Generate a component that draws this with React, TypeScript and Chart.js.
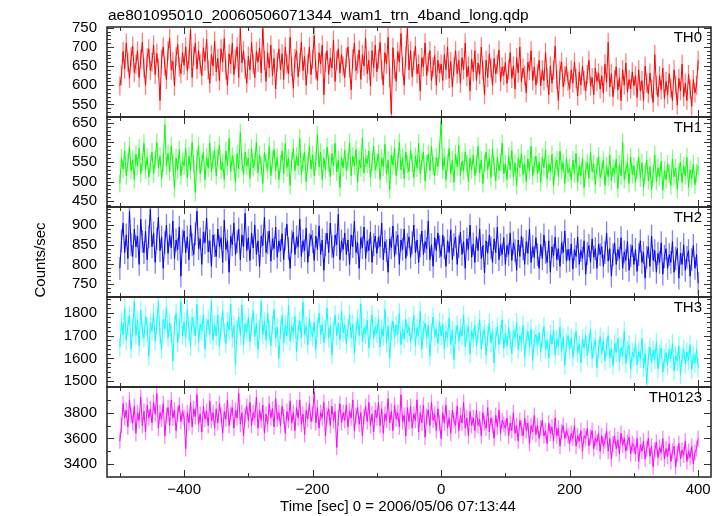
import React, { useEffect, useRef } from "react";
import { Chart, registerables } from "chart.js";
Chart.register(...registerables);

// Time bins: start and bin width (sec)
const T_START = -500;
const T_STEP = 2.5;

const TH0 = [
  598, 625, 688, 642, 710, 660, 618, 675, 702, 633, 655, 690, 620, 668, 712, 645, 600, 672, 695, 638,
  660, 705, 628, 683, 645, 560, 668, 700, 650, 615, 690, 722, 640, 662, 598, 675, 706, 648, 630, 685,
  652, 700, 638, 668, 745, 620, 676, 710, 642, 690, 655, 625, 698, 662, 720, 640, 605, 680, 650, 715,
  635, 670, 612, 695, 660, 722, 640, 600, 682, 655, 710, 628, 668, 700, 620, 748, 658, 690, 642, 605,
  676, 640, 712, 655, 620, 688, 660, 698, 632, 748, 665, 610, 685, 645, 705, 625, 670, 590, 660, 695,
  640, 682, 615, 700, 655, 630, 725, 648, 592, 670, 690, 622, 660, 712, 638, 675, 600, 655, 700, 628,
  668, 730, 640, 612, 685, 655, 705, 575, 660, 690, 628, 672, 645, 718, 610, 665, 695, 632, 680, 650,
  620, 672, 700, 645, 588, 668, 710, 638, 655, 692, 615, 680, 650, 722, 630, 665, 598, 690, 645, 705,
  635, 668, 712, 640, 600, 685, 655, 725, 620, 525, 698, 642, 610, 688, 660, 735, 648, 600, 676, 748,
  640, 690, 622, 665, 702, 630, 655, 585, 672, 648, 710, 625, 660, 690, 612, 648, 678, 600, 665, 632,
  655, 612, 680, 640, 700, 618, 662, 595, 648, 690, 630, 665, 605, 672, 640, 710, 622, 650, 585, 668,
  635, 690, 612, 658, 628, 700, 640, 575, 665, 620, 682, 645, 600, 670, 630, 655, 692, 610, 648, 625,
  660, 605, 640, 685, 618, 650, 590, 672, 632, 700, 608, 645, 625, 580, 660, 638, 690, 612, 648, 600,
  630, 665, 598, 640, 612, 685, 620, 575, 650, 605, 640, 702, 615, 560, 638, 660, 595, 625, 648, 610,
  590, 640, 605, 660, 618, 572, 635, 600, 650, 612, 585, 628, 665, 598, 620, 575, 645, 610, 632, 590,
  625, 580, 655, 608, 712, 595, 630, 570, 615, 648, 588, 620, 560, 640, 600, 658, 582, 615, 590, 635,
  598, 625, 568, 640, 585, 612, 560, 650, 605, 578, 632, 590, 555, 680, 600, 570, 625, 588, 645, 565,
  610, 575, 630, 592, 560, 640, 600, 548, 618, 585, 655, 570, 605, 560, 628, 590, 545, 615, 580, 600,
  665,
];
const TH1 = [
  495, 560, 532, 578, 515, 548, 590, 528, 556, 505, 570, 540, 585, 520, 550, 598, 530, 562, 512, 545,
  575, 520, 555, 600, 535, 565, 508, 548, 645, 540, 572, 525, 590, 548, 482, 560, 530, 582, 515, 552,
  540, 585, 510, 565, 528, 600, 545, 472, 558, 590, 520, 548, 575, 505, 562, 535, 598, 525, 555, 580,
  515, 560, 592, 530, 548, 505, 578, 540, 610, 525, 565, 545, 498, 572, 532, 625, 550, 518, 575, 540,
  560, 508, 585, 535, 550, 600, 522, 568, 540, 495, 575, 548, 530, 590, 515, 555, 582, 528, 562, 505,
  545, 578, 520, 598, 535, 560, 490, 552, 585, 528, 565, 540, 610, 518, 550, 575, 500, 545, 590, 532,
  568, 515, 552, 620, 538, 575, 505, 560, 530, 588, 548, 512, 572, 540, 598, 525, 555, 485, 562, 535,
  580, 528, 550, 600, 515, 565, 540, 582, 498, 555, 535, 612, 522, 560, 545, 578, 510, 550, 590, 530,
  548, 572, 505, 560, 538, 595, 520, 555, 480, 568, 542, 585, 515, 550, 600, 530, 562, 508, 575, 545,
  525, 580, 548, 510, 565, 535, 598, 520, 552, 575, 502, 545, 570, 528, 590, 540, 515, 562, 538, 580,
  655, 530, 562, 505, 548, 585, 520, 555, 498, 570, 538, 592, 515, 552, 528, 575, 545, 500, 560, 530,
  568, 515, 545, 590, 522, 555, 495, 548, 575, 530, 560, 510, 585, 538, 502, 562, 528, 550, 598, 520,
  545, 505, 565, 530, 580, 512, 548, 490, 560, 535, 572, 518, 545, 500, 558, 528, 590, 515, 542, 565,
  520, 550, 498, 562, 535, 580, 508, 545, 525, 570, 490, 540, 555, 512, 578, 530, 548, 495, 560, 522,
  535, 505, 555, 520, 572, 498, 540, 515, 560, 485, 530, 548, 508, 575, 525, 545, 492, 538, 565, 510,
  528, 555, 490, 540, 512, 568, 502, 535, 520, 558, 482, 545, 515, 600, 505, 530, 548, 495, 562, 518,
  540, 498, 530, 562, 510, 548, 485, 525, 555, 502, 538, 480, 520, 568, 500, 535, 512, 552, 478, 528,
  505, 545, 520, 490, 558, 512, 535, 480, 525, 550, 498, 540, 515, 562, 485, 530, 508, 545, 492, 522,
  540,
];
const TH2 = [
  790, 860, 905, 830, 875, 815, 935, 850, 820, 890, 845, 872, 800, 915, 858, 830, 885, 812, 870, 940,
  845, 880, 805, 865, 920, 835, 870, 790, 855, 900, 828, 875, 842, 910, 815, 862, 838, 895, 770, 860,
  885, 830, 870, 812, 900, 850, 825, 878, 935, 840, 865, 800, 882, 855, 918, 832, 860, 795, 875, 848,
  820, 890, 845, 868, 805, 912, 838, 860, 780, 872, 850, 905, 825, 858, 890, 812, 875, 845, 930, 835,
  868, 810, 880, 842, 900, 825, 860, 795, 872, 848, 920, 830, 855, 885, 808, 865, 840, 895, 818, 860,
  835, 878, 812, 865, 902, 840, 790, 858, 882, 825, 870, 845, 915, 820, 860, 835, 892, 805, 850, 875,
  858, 810, 872, 838, 898, 825, 862, 785, 850, 880, 830, 905, 845, 818, 875, 850, 928, 812, 860, 838,
  880, 825, 862, 800, 875, 845, 910, 830, 855, 790, 868, 842, 895, 815, 860, 835, 882, 805, 850, 872,
  828, 870, 845, 905, 812, 858, 835, 780, 865, 842, 898, 820, 855, 875, 800, 862, 838, 890, 815, 850,
  870, 818, 855, 900, 830, 862, 805, 848, 885, 825, 858, 840, 910, 812, 850, 795, 868, 835, 880, 845,
  820, 875, 842, 795, 860, 830, 888, 812, 850, 870, 800, 845, 882, 825, 858, 790, 865, 838, 900, 818,
  852, 805, 870, 835, 890, 815, 848, 778, 860, 828, 875, 842, 805, 865, 830, 895, 812, 850, 825, 868,
  800, 848, 825, 880, 810, 855, 835, 785, 862, 820, 872, 840, 800, 858, 828, 890, 805, 845, 818, 868,
  825, 790, 850, 815, 875, 830, 805, 860, 780, 845, 822, 870, 812, 840, 795, 855, 830, 885, 808, 838,
  810, 852, 788, 838, 820, 870, 800, 835, 815, 860, 775, 828, 848, 805, 865, 818, 840, 790, 852, 825,
  845, 795, 830, 880, 808, 840, 770, 825, 855, 800, 838, 815, 868, 790, 832, 810, 858, 785, 822, 848,
  800, 838, 782, 825, 860, 805, 830, 765, 818, 845, 795, 872, 810, 835, 780, 828, 805, 855, 775, 820,
  840, 790, 825, 805, 858, 780, 815, 840, 765, 828, 800, 850, 785, 818, 835, 770, 812, 848, 790, 825,
  752,
];
const TH3 = [
  1650, 1760, 1705, 1820, 1680, 1745, 1790, 1640, 1735, 1850, 1700, 1768, 1655, 1812, 1722, 1690, 1785, 1740, 1610, 1755,
  1720, 1800, 1675, 1748, 1850, 1705, 1640, 1772, 1730, 1825, 1690, 1755, 1712, 1588, 1745, 1800, 1668, 1732, 1850, 1700,
  1760, 1690, 1815, 1725, 1655, 1780, 1742, 1700, 1838, 1668, 1750, 1720, 1795, 1640, 1735, 1770, 1705, 1850, 1682, 1748,
  1700, 1790, 1652, 1738, 1810, 1715, 1665, 1760, 1725, 1840, 1690, 1745, 1570, 1728, 1782, 1700, 1835, 1660, 1752, 1715,
  1780, 1672, 1740, 1810, 1695, 1755, 1640, 1725, 1850, 1705, 1762, 1680, 1798, 1720, 1655, 1745, 1815, 1690, 1738, 1600,
  1725, 1790, 1668, 1750, 1700, 1832, 1675, 1742, 1712, 1785, 1630, 1728, 1765, 1690, 1848, 1705, 1740, 1660, 1775, 1718,
  1695, 1760, 1640, 1735, 1800, 1705, 1748, 1668, 1728, 1820, 1690, 1740, 1615, 1722, 1790, 1700, 1755, 1680, 1808, 1712,
  1748, 1665, 1730, 1792, 1690, 1752, 1620, 1718, 1775, 1700, 1840, 1672, 1735, 1705, 1768, 1645, 1725, 1792, 1688, 1740,
  1710, 1775, 1650, 1730, 1698, 1815, 1668, 1742, 1600, 1720, 1765, 1690, 1748, 1705, 1800, 1660, 1728, 1685, 1772, 1712,
  1740, 1672, 1720, 1790, 1655, 1735, 1700, 1808, 1640, 1722, 1755, 1688, 1745, 1610, 1715, 1782, 1695, 1730, 1665, 1760,
  1700, 1752, 1640, 1718, 1690, 1778, 1660, 1725, 1595, 1705, 1745, 1675, 1732, 1698, 1790, 1650, 1712, 1740, 1620, 1720,
  1688, 1745, 1655, 1712, 1770, 1640, 1700, 1728, 1615, 1695, 1755, 1668, 1722, 1580, 1690, 1738, 1660, 1705, 1770, 1645,
  1710, 1655, 1735, 1680, 1620, 1722, 1690, 1758, 1640, 1700, 1672, 1745, 1605, 1688, 1718, 1650, 1730, 1590, 1682, 1705,
  1655, 1712, 1628, 1690, 1740, 1640, 1678, 1600, 1705, 1662, 1725, 1615, 1685, 1655, 1738, 1630, 1692, 1570, 1668, 1700,
  1640, 1690, 1605, 1672, 1718, 1625, 1660, 1580, 1685, 1645, 1700, 1610, 1665, 1728, 1598, 1650, 1680, 1560, 1640, 1695,
  1620, 1675, 1590, 1650, 1700, 1600, 1642, 1568, 1665, 1625, 1690, 1585, 1648, 1612, 1720, 1578, 1635, 1660, 1550, 1628,
  1605, 1665, 1572, 1630, 1598, 1688, 1560, 1622, 1490, 1610, 1650, 1580, 1635, 1595, 1672, 1555, 1618, 1645, 1540, 1600,
  1625, 1570, 1640, 1598, 1665, 1545, 1612, 1588, 1655, 1530, 1605, 1640, 1575, 1628, 1592, 1660, 1550, 1615, 1580, 1640,
  1560,
];
const TH0123 = [
  3580, 3700, 3870, 3760, 3820, 3690, 3900, 3780, 3720, 3850, 3640, 3800, 3740, 3920, 3700, 3810, 3650, 3860, 3760, 3830,
  3720, 3880, 3790, 3950, 3680, 3800, 3750, 3870, 3620, 3780, 3840, 3700, 3900, 3760, 3820, 3660, 3790, 3860, 3730, 3810,
  3760, 3520, 3800, 3720, 3880, 3690, 3830, 3770, 3940, 3710, 3790, 3650, 3850, 3750, 3810, 3700, 3890, 3740, 3800, 3680,
  3830, 3720, 3870, 3780, 3640, 3810, 3750, 3900, 3700, 3790, 3840, 3680, 3820, 3760, 3950, 3710, 3800, 3620, 3780, 3850,
  3740, 3880, 3700, 3800, 3760, 3920, 3680, 3820, 3740, 3860, 3640, 3790, 3710, 3870, 3760, 3830, 3690, 3910, 3750, 3800,
  3700, 3850, 3770, 3640, 3810, 3740, 3890, 3720, 3800, 3660, 3840, 3760, 3900, 3710, 3790, 3630, 3820, 3750, 3870, 3730,
  3790, 3960, 3720, 3840, 3680, 3800, 3760, 3880, 3620, 3780, 3830, 3700, 3850, 3740, 3810, 3530, 3760, 3870, 3720, 3800,
  3740, 3860, 3690, 3810, 3760, 3900, 3660, 3780, 3840, 3710, 3800, 3620, 3770, 3850, 3730, 3880, 3700, 3790, 3650, 3820,
  3760, 3880, 3700, 3830, 3640, 3790, 3740, 3910, 3720, 3810, 3660, 3860, 3750, 3800, 3690, 3940, 3730, 3780, 3620, 3840,
  3730, 3850, 3680, 3790, 3740, 3900, 3650, 3800, 3720, 3860, 3610, 3770, 3820, 3700, 3880, 3740, 3790, 3660, 3830, 3720,
  3600, 3800, 3720, 3860, 3680, 3760, 3640, 3820, 3740, 3700, 3850, 3660, 3780, 3720, 3880, 3680, 3760, 3620, 3810, 3700,
  3760, 3660, 3820, 3700, 3750, 3620, 3800, 3720, 3680, 3840, 3650, 3760, 3700, 3600, 3780, 3690, 3820, 3640, 3740, 3710,
  3680, 3760, 3620, 3720, 3660, 3800, 3640, 3700, 3580, 3740, 3680, 3620, 3760, 3660, 3720, 3560, 3700, 3650, 3780, 3630,
  3700, 3600, 3680, 3740, 3620, 3660, 3560, 3720, 3640, 3690, 3580, 3760, 3620, 3680, 3540, 3650, 3700, 3600, 3660, 3620,
  3560, 3640, 3600, 3700, 3540, 3620, 3580, 3660, 3500, 3620, 3600, 3680, 3540, 3610, 3660, 3520, 3600, 3570, 3640, 3500,
  3620, 3540, 3580, 3660, 3500, 3600, 3440, 3560, 3620, 3520, 3590, 3480, 3640, 3550, 3600, 3500, 3570, 3610, 3480, 3560,
  3540, 3480, 3600, 3420, 3550, 3500, 3580, 3440, 3520, 3600, 3460, 3540, 3380, 3510, 3570, 3450, 3530, 3490, 3600, 3440,
  3520, 3460, 3560, 3420, 3500, 3540, 3380, 3480, 3560, 3440, 3510, 3470, 3580, 3420, 3500, 3450, 3540, 3400, 3490, 3520,
  3600,
];

const SERIES = [TH0, TH1, TH2, TH3, TH0123];
const PANEL_NAMES = ["TH0", "TH1", "TH2", "TH3", "TH0123"];
const ERRORS = [25, 23, 29, 42, 61];
const Y_MIN = [517, 435, 717, 1474, 3300];
const Y_MAX = [752, 665, 946, 1870, 4000];
const Y_TICKS = [
  [550, 600, 650, 700, 750],
  [450, 500, 550, 600, 650],
  [750, 800, 850, 900],
  [1500, 1600, 1700, 1800],
  [3400, 3600, 3800],
];
const Y_MINOR = [10, 10, 10, 20, 100];
const X_MIN = -520;
const X_MAX = 420;
const X_TICKS = [-400, -200, 0, 200, 400];
const X_MINOR = 100;

const TITLE = "ae801095010_20060506071344_wam1_trn_4band_long.qdp";
const X_LABEL = "Time [sec] 0 = 2006/05/06 07:13:44";
const Y_LABEL = "Counts/sec";

const COLORS = ["#ff0000", "#00ff00", "#0000ff", "#00ffff", "#ff00ff"];
const PALE = [
  "rgba(255,0,0,0.5)",
  "rgba(0,255,0,0.5)",
  "rgba(0,0,255,0.5)",
  "rgba(0,255,255,0.5)",
  "rgba(255,0,255,0.5)",
];
const FONT = "'Liberation Sans', Arial, Helvetica, sans-serif";

const fmt = (v: number) => (v < 0 ? "\u2212" + Math.abs(v) : String(v));

const panelPlugin = {
  id: "qdpPanels",
  beforeDatasetDraw(chart: any, args: any) {
    const ctx = chart.ctx;
    const meta = args.meta;
    const ys = chart.scales[meta.yAxisID];
    const { left, right } = chart.chartArea;
    ctx.save();
    ctx.beginPath();
    ctx.rect(left, ys.top, right - left, ys.bottom - ys.top);
    ctx.clip();
    // error bars
    const di = args.index;
    const xs = chart.scales.x;
    ctx.strokeStyle = PALE[di];
    ctx.lineWidth = 1.3;
    ctx.beginPath();
    SERIES[di].forEach((v, i) => {
      const x = xs.getPixelForValue(T_START + i * T_STEP);
      ctx.moveTo(x, ys.getPixelForValue(v - ERRORS[di]));
      ctx.lineTo(x, ys.getPixelForValue(v + ERRORS[di]));
    });
    ctx.stroke();
  },
  afterDatasetDraw(chart: any) {
    chart.ctx.restore();
  },
  afterDraw(chart: any) {
    const ctx = chart.ctx;
    const { left, right } = chart.chartArea;
    const xs = chart.scales.x;
    ctx.save();
    for (let p = 0; p < 5; p++) {
      const ys = chart.scales["y" + p];
      const top = ys.top;
      const bottom = ys.bottom;
      ctx.strokeStyle = "#333";
      ctx.lineWidth = 1;
      // x ticks
      ctx.beginPath();
      for (let v = Math.ceil(X_MIN / X_MINOR) * X_MINOR; v <= X_MAX; v += X_MINOR) {
        const x = Math.round(xs.getPixelForValue(v)) + 0.5;
        const len = X_TICKS.includes(v) ? 7 : 4;
        ctx.moveTo(x, top);
        ctx.lineTo(x, top + len);
        ctx.moveTo(x, bottom);
        ctx.lineTo(x, bottom - len);
      }
      // y ticks
      const mn = Y_MINOR[p];
      for (let v = Math.ceil(Y_MIN[p] / mn) * mn; v <= Y_MAX[p]; v += mn) {
        const y = Math.round(ys.getPixelForValue(v)) + 0.5;
        if (y <= top + 1 || y >= bottom - 1) continue;
        const len = Y_TICKS[p].includes(v) ? 7 : 4;
        ctx.moveTo(left, y);
        ctx.lineTo(left + len, y);
        ctx.moveTo(right, y);
        ctx.lineTo(right - len, y);
      }
      ctx.stroke();
      // frame
      ctx.strokeStyle = "#222";
      ctx.lineWidth = 1.5;
      ctx.strokeRect(left, top, right - left, bottom - top);
      // panel label
      ctx.fillStyle = "#000";
      ctx.font = "15px " + FONT;
      ctx.textAlign = "right";
      ctx.textBaseline = "middle";
      ctx.fillText(PANEL_NAMES[p], right - 9, top + 11);
    }
    // title
    ctx.font = "15.5px " + FONT;
    ctx.textAlign = "left";
    ctx.textBaseline = "alphabetic";
    ctx.fillText(TITLE, left + 1, 20);
    // x label
    ctx.font = "15px " + FONT;
    ctx.textAlign = "center";
    ctx.textBaseline = "middle";
    ctx.fillText(X_LABEL, 398, 507);
    // y label
    ctx.translate(41, 260);
    ctx.rotate(-Math.PI / 2);
    ctx.fillText(Y_LABEL, 0, 0);
    ctx.restore();
  },
};

export default function App() {
  const ref = useRef<HTMLCanvasElement | null>(null);
  useEffect(() => {
    if (!ref.current) return;
    const datasets = SERIES.map((vals, i) => ({
      label: PANEL_NAMES[i],
      data: vals.map((v, k) => ({ x: T_START + k * T_STEP, y: v })),
      yAxisID: "y" + i,
      borderColor: COLORS[i],
      backgroundColor: COLORS[i],
      borderWidth: 1,
      pointRadius: 0,
      tension: 0,
      fill: false,
    }));
    const scales: any = {
      x: {
        type: "linear",
        position: "bottom",
        min: X_MIN,
        max: X_MAX,
        grid: { display: false, drawTicks: false },
        border: { display: false },
        afterBuildTicks: (s: any) => {
          s.ticks = X_TICKS.map((v) => ({ value: v }));
        },
        afterFit: (s: any) => {
          s.height = 39;
        },
        ticks: {
          padding: 4,
          color: "#000",
          font: { family: FONT, size: 15 },
          maxRotation: 0,
          autoSkip: false,
          callback: (v: any) => fmt(Number(v)),
        },
      },
    };
    // stacked axes are placed bottom-up in definition order
    for (let i = 4; i >= 0; i--) {
      scales["y" + i] = {
        type: "linear",
        position: "left",
        stack: "panels",
        stackWeight: 1,
        min: Y_MIN[i],
        max: Y_MAX[i],
        grid: { display: false, drawTicks: false },
        border: { display: false },
        afterBuildTicks: (s: any) => {
          s.ticks = Y_TICKS[i].map((v) => ({ value: v }));
        },
        afterFit: (s: any) => {
          s.width = 107;
        },
        ticks: {
          padding: 10,
          color: "#000",
          font: { family: FONT, size: 15 },
          autoSkip: false,
          callback: (v: any) => fmt(Number(v)),
        },
      };
    }
    const chart = new Chart(ref.current, {
      type: "line",
      data: { datasets },
      options: {
        responsive: false,
        animation: false,
        devicePixelRatio: 1,
        layout: { padding: { top: 27, right: 13, left: 0, bottom: 0 } },
        plugins: { legend: { display: false }, tooltip: { enabled: false }, title: { display: false } },
        scales,
      },
      plugins: [panelPlugin],
    } as any);
    return () => chart.destroy();
  }, []);
  return (
    <div style={{ position: "absolute", left: 0, top: 0, width: 724, height: 516, background: "#fff" }}>
      <canvas ref={ref} width={724} height={516} style={{ width: 724, height: 516 }} />
    </div>
  );
}
